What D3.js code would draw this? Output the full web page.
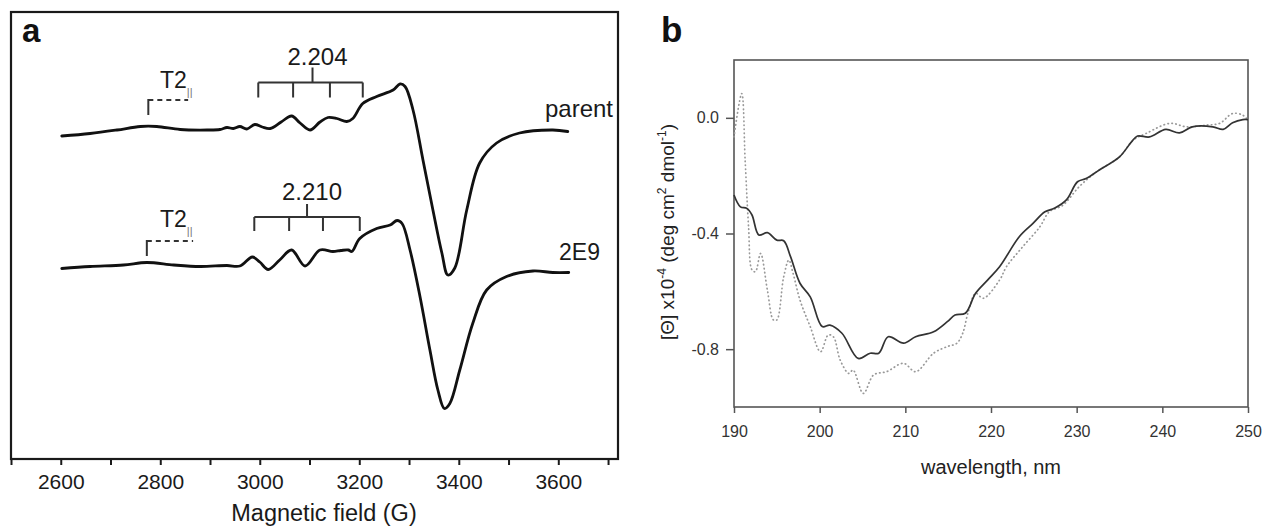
<!DOCTYPE html>
<html>
<head>
<meta charset="utf-8">
<script src="https://cdn.jsdelivr.net/npm/d3@7"></script>
<style>
  html, body { margin: 0; padding: 0; background: #fff; }
  svg { display: block; font-family: "Liberation Sans", Arial, sans-serif; }
</style>
</head>
<body>
<svg id="chart" width="1265" height="528"></svg>
<script>
// ---------- Panel a: EPR spectra (field in G, derivative intensity in a.u.) ----------
const eprFieldParent = [2602, 2659, 2713, 2760, 2793, 2840, 2894, 2920, 2934, 2947, 2960, 2974, 2990, 3005, 3021, 3043, 3064, 3081, 3101, 3121, 3137, 3155, 3175, 3187, 3207, 3235, 3268, 3282, 3292, 3308, 3328, 3348, 3366, 3378, 3392, 3416, 3442, 3476, 3522, 3589, 3619];
const eprParent      = [-0.02, 0.03, 0.10, 0.17, 0.17, 0.11, 0.10, 0.11, 0.15, 0.13, 0.17, 0.12, 0.21, 0.16, 0.13, 0.26, 0.38, 0.24, 0.10, 0.26, 0.35, 0.33, 0.27, 0.33, 0.63, 0.77, 0.90, 1.02, 0.97, 0.50, -0.50, -1.50, -2.36, -2.80, -2.66, -1.50, -0.56, -0.16, 0.04, 0.10, 0.07];

const eprField2E9 = [2602, 2659, 2726, 2773, 2827, 2880, 2934, 2960, 2985, 3000, 3017, 3040, 3064, 3091, 3121, 3147, 3163, 3178, 3185, 3201, 3235, 3262, 3276, 3286, 3302, 3322, 3342, 3358, 3371, 3382, 3402, 3428, 3456, 3496, 3549, 3589, 3621];
const epr2E9      = [-0.01, 0.03, 0.06, 0.11, 0.06, 0.03, 0.05, 0.04, 0.22, 0.12, -0.03, 0.16, 0.36, 0.04, 0.36, 0.33, 0.35, 0.36, 0.33, 0.59, 0.79, 0.86, 0.95, 0.89, 0.36, -0.57, -1.64, -2.44, -2.81, -2.71, -2.04, -1.11, -0.44, -0.17, -0.06, -0.09, -0.09];

const eprSeriesNames = ["parent", "2E9"];
const eprOffsets = [0, -2.66];
const eprTickValues = [2500, 2600, 2700, 2800, 2900, 3000, 3100, 3200, 3300, 3400, 3500, 3600, 3700];
const eprTickLabels = [2600, 2800, 3000, 3200, 3400, 3600];

// hyperfine bracket line positions (G)
const hfParent = [2997, 3067, 3141, 3207];
const hf2E9    = [2989, 3059, 3127, 3201];
const hfLabels = ["2.204", "2.210"];
const t2Parent = [2776, 2856];
const t22E9    = [2773, 2866];

// ---------- Panel b: CD spectra ----------
const cdSolidNm = [190, 190.75, 191.5, 192.1, 192.9, 193.9, 195.0, 195.8, 196.6, 197.7, 198.9, 200.3, 201.2, 202.6, 204.5, 205.9, 206.9, 208.0, 209.8, 211.2, 213.3, 214.9, 215.8, 217.0, 218.2, 219.6, 221.0, 223.3, 224.9, 226.3, 227.4, 228.8, 230.1, 231.1, 232.6, 235.0, 236.4, 237.1, 238.5, 240.4, 242.0, 243.5, 245.9, 247.1, 248.2, 249.4, 250];
const cdSolid   = [-0.267, -0.308, -0.313, -0.336, -0.405, -0.397, -0.423, -0.425, -0.48, -0.572, -0.619, -0.722, -0.717, -0.745, -0.832, -0.814, -0.814, -0.757, -0.779, -0.757, -0.74, -0.705, -0.682, -0.676, -0.607, -0.561, -0.515, -0.411, -0.365, -0.325, -0.313, -0.284, -0.221, -0.21, -0.181, -0.135, -0.083, -0.063, -0.066, -0.04, -0.052, -0.031, -0.031, -0.04, -0.017, -0.006, -0.006];

const cdDottedNm = [190, 190.9, 191.3, 191.7, 192.1, 192.5, 193.1, 193.9, 194.6, 195.0, 195.8, 196.4, 196.9, 197.7, 198.9, 200.1, 201.0, 201.6, 202.4, 203.4, 203.9, 205.1, 206.3, 207.8, 209.8, 211.2, 213.3, 214.9, 216.0, 216.7, 217.3, 218.2, 219.1, 221.0, 221.8, 223.7, 225.7, 226.8, 228.4, 230.3, 232.3, 235.0, 236.6, 238.1, 240.9, 242.8, 245.2, 246.7, 248.2, 249.4, 250];
const cdDotted   = [-0.066, 0.084, -0.146, -0.377, -0.526, -0.532, -0.469, -0.596, -0.699, -0.699, -0.55, -0.492, -0.538, -0.63, -0.722, -0.809, -0.751, -0.757, -0.838, -0.884, -0.872, -0.953, -0.889, -0.878, -0.849, -0.878, -0.814, -0.791, -0.78, -0.745, -0.676, -0.607, -0.624, -0.561, -0.515, -0.446, -0.377, -0.325, -0.302, -0.238, -0.187, -0.135, -0.077, -0.054, -0.019, -0.031, -0.025, -0.019, 0.015, 0.009, -0.008];

const cdXTicks = [190, 200, 210, 220, 230, 240, 250];
const cdYTicks = [0, -0.4, -0.8];
const cdYTickLabels = ["0.0", "-0.4", "-0.8"];

// ==================================================================
const svg = d3.select("#chart");
const ink = "#1a1a1a";

// ---------- Panel a ----------
const xA = d3.scaleLinear().domain([2500, 3720]).range([11, 618]);
const yA = d3.scaleLinear().domain([-6.48, 2.46]).range([459, 12]);
const gA = svg.append("g");

const axA = d3.axisBottom(xA)
  .tickValues(eprTickValues)
  .tickSize(6)
  .tickFormat(d => eprTickLabels.includes(d) ? String(d) : "");
const axAg = gA.append("g").attr("transform", `translate(0,${yA.range()[0]})`).call(axA);
axAg.select(".domain").remove();
axAg.selectAll(".tick line").attr("stroke", ink).attr("stroke-width", 2);
axAg.selectAll(".tick text").attr("fill", ink).attr("font-size", 21)
  .attr("font-family", "Liberation Sans, Arial, sans-serif").attr("dy", "0.98em");

gA.append("rect")
  .attr("x", xA.range()[0]).attr("y", yA.range()[1])
  .attr("width", xA.range()[1] - xA.range()[0])
  .attr("height", yA.range()[0] - yA.range()[1])
  .attr("fill", "none").attr("stroke", ink).attr("stroke-width", 2.2);

const eprData = [
  eprFieldParent.map((f, i) => [f, eprParent[i]]),
  eprField2E9.map((f, i) => [f, epr2E9[i]])
];
const lineA = d3.line().curve(d3.curveCatmullRom.alpha(0.5));
eprData.forEach((ser, k) => {
  gA.append("path")
    .attr("d", lineA(ser.map(d => [xA(d[0]), yA(d[1] + eprOffsets[k])])))
    .attr("fill", "none").attr("stroke", "#111").attr("stroke-width", 2.8)
    .attr("stroke-linejoin", "round").attr("stroke-linecap", "round");
});

// series labels
gA.append("text").attr("x", 613).attr("y", 117).attr("text-anchor", "end")
  .attr("font-size", 24).attr("fill", ink).text(eprSeriesNames[0]);
gA.append("text").attr("x", 600).attr("y", 260).attr("text-anchor", "end")
  .attr("font-size", 23).attr("fill", ink).text(eprSeriesNames[1]);

// hyperfine brackets
function hfBracket(xs, lineY, tickLen, upLen, label, labelY) {
  const g = gA.append("g").attr("stroke", "#333").attr("stroke-width", 2).attr("fill", "none");
  const x0 = xA(xs[0]), x1 = xA(xs[xs.length - 1]);
  g.append("line").attr("x1", x0).attr("x2", x1).attr("y1", lineY).attr("y2", lineY);
  xs.forEach(v => g.append("line").attr("x1", xA(v)).attr("x2", xA(v)).attr("y1", lineY).attr("y2", lineY + tickLen));
  const cx = (xs[1] + xs[2]) / 2 + 2;
  g.append("line").attr("x1", xA(cx)).attr("x2", xA(cx)).attr("y1", lineY).attr("y2", lineY - upLen);
  gA.append("text").attr("x", xA(cx) + 5).attr("y", labelY).attr("text-anchor", "middle")
    .attr("font-size", 24).attr("fill", ink).text(label);
}
hfBracket(hfParent, 82.5, 15, 15, hfLabels[0], 65);
hfBracket(hf2E9, 217, 14, 13, hfLabels[1], 200);

// T2|| dashed brackets
function t2Bracket(xs, lineY, textY) {
  const g = gA.append("g").attr("stroke", "#333").attr("stroke-width", 2).attr("fill", "none");
  g.append("line").attr("x1", xA(xs[0])).attr("x2", xA(xs[0])).attr("y1", lineY - 1).attr("y2", lineY + 15);
  g.append("line").attr("x1", xA(xs[0])).attr("x2", xA(xs[1])).attr("y1", lineY).attr("y2", lineY)
    .attr("stroke-dasharray", "5,4");
  const t = gA.append("text").attr("x", 160).attr("y", textY).attr("font-size", 23).attr("fill", ink);
  t.append("tspan").text("T2");
  t.append("tspan").attr("font-size", 11).attr("dy", 8).attr("fill", "#777").text("||");
}
t2Bracket(t2Parent, 100, 88);
t2Bracket(t22E9, 241, 227);

gA.append("text").attr("x", 324).attr("y", 521).attr("text-anchor", "middle")
  .attr("font-size", 23.5).attr("fill", ink).text("Magnetic field (G)");
svg.append("text").attr("x", 22).attr("y", 42).attr("font-size", 33).attr("font-weight", "bold")
  .attr("fill", "#111").text("a");

// ---------- Panel b ----------
const xB = d3.scaleLinear().domain([190, 250]).range([734, 1248]);
const yB = d3.scaleLinear().domain([-1.0, 0.2]).range([407, 60]);
const gB = svg.append("g");
const frameB = "#555";

const axBx = gB.append("g").attr("transform", `translate(0,${yB.range()[0]})`)
  .call(d3.axisBottom(xB).tickValues(cdXTicks).tickSize(6).tickFormat(d3.format("d")));
const axBy = gB.append("g").attr("transform", `translate(${xB.range()[0]},0)`)
  .call(d3.axisLeft(yB).tickValues(cdYTicks).tickSize(8).tickFormat((d, i) => cdYTickLabels[i]));
[axBx, axBy].forEach(ax => {
  ax.select(".domain").remove();
  ax.selectAll(".tick line").attr("stroke", frameB).attr("stroke-width", 1.5);
  ax.selectAll(".tick text").attr("fill", "#333").attr("font-size", 16)
    .attr("font-family", "Liberation Sans, Arial, sans-serif");
});
axBx.selectAll(".tick text").attr("dy", "1.3em");
axBy.selectAll(".tick text").attr("dx", "-0.25em");

gB.append("rect")
  .attr("x", xB.range()[0]).attr("y", yB.range()[1])
  .attr("width", xB.range()[1] - xB.range()[0])
  .attr("height", yB.range()[0] - yB.range()[1])
  .attr("fill", "none").attr("stroke", frameB).attr("stroke-width", 1.6);

const lineB = d3.line().x(d => xB(d[0])).y(d => yB(d[1])).curve(d3.curveCatmullRom.alpha(0.5));
gB.append("path")
  .attr("d", lineB(cdDottedNm.map((n, i) => [n, cdDotted[i]])))
  .attr("fill", "none").attr("stroke", "#999").attr("stroke-width", 1.7)
  .attr("stroke-dasharray", "0.5,3.5").attr("stroke-linecap", "round");
gB.append("path")
  .attr("d", lineB(cdSolidNm.map((n, i) => [n, cdSolid[i]])))
  .attr("fill", "none").attr("stroke", "#333").attr("stroke-width", 1.7)
  .attr("stroke-linejoin", "round");

gB.append("text").attr("x", 991).attr("y", 474).attr("text-anchor", "middle")
  .attr("font-size", 20).attr("fill", "#222").text("wavelength, nm");

const yl = gB.append("text").attr("transform", "translate(674,232) rotate(-90)")
  .attr("text-anchor", "middle").attr("font-size", 19).attr("fill", "#222");
yl.append("tspan").text("[\u0398] x10");
yl.append("tspan").attr("font-size", 12).attr("dy", -8).text("-4");
yl.append("tspan").attr("dy", 8).text(" (deg cm");
yl.append("tspan").attr("font-size", 12).attr("dy", -8).text("2");
yl.append("tspan").attr("dy", 8).text(" dmol");
yl.append("tspan").attr("font-size", 12).attr("dy", -8).text("-1");
yl.append("tspan").attr("dy", 8).text(")");

svg.append("text").attr("x", 661).attr("y", 42).attr("font-size", 35).attr("font-weight", "bold")
  .attr("fill", "#111").text("b");
</script>
</body>
</html>
